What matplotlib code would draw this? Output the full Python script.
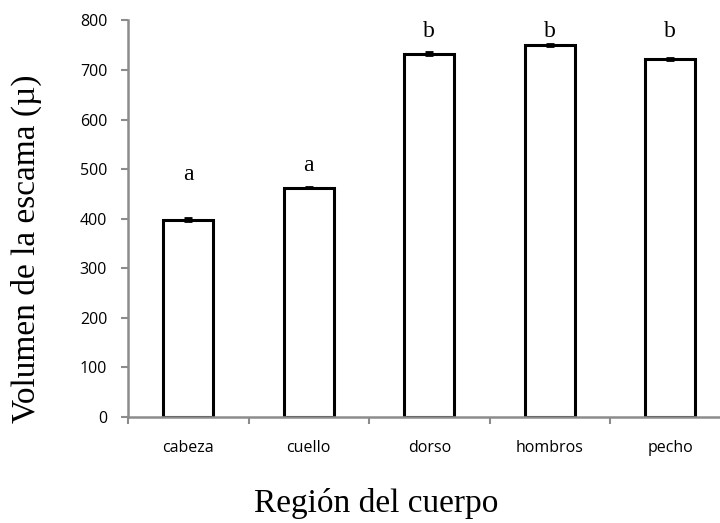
import matplotlib.pyplot as plt
import numpy as np

regiones = ["cabeza", "cuello", "dorso", "hombros", "pecho"]
volumen = [398, 462, 733, 750, 723]
error = [3, 1, 3, 2, 2]
letras = ["a", "a", "b", "b", "b"]
pos_letras = [488, 508, 778, 778, 778]

gris = "#8c8c8c"

fig = plt.figure(figsize=(7.2, 5.23), dpi=100)
ax = fig.add_axes([0.1778, 0.2033, 0.8368, 0.7576])

x = np.arange(len(regiones))
ax.bar(x, volumen, width=0.415, color="white", edgecolor="black", linewidth=2.2, zorder=2)
ax.errorbar(x, volumen, yerr=error, fmt="none", ecolor="black", elinewidth=2, capsize=3, capthick=2, zorder=3)

for xi, letra, yl in zip(x, letras, pos_letras):
    ax.text(xi, yl, letra, ha="center", va="center", fontsize=17, family="Liberation Serif")

ax.set_xlim(-0.5, len(regiones) - 0.5)
ax.set_ylim(0, 800)
ax.set_yticks(range(0, 801, 100))
ax.set_xticks(x)
ax.set_xticklabels(regiones)
ax.set_xticks(np.arange(-0.5, len(regiones), 1), minor=True)

for lab in ax.get_xticklabels() + ax.get_yticklabels():
    lab.set_family("Open Sans")
    lab.set_fontsize(11.5)

ax.tick_params(axis="x", which="major", length=0, pad=17)
ax.tick_params(axis="x", which="minor", length=5, width=1.5, color=gris, direction="out")
ax.tick_params(axis="y", length=5, width=1.5, color=gris, direction="out", pad=10)

for side in ["top", "right"]:
    ax.spines[side].set_visible(False)
for side in ["left", "bottom"]:
    ax.spines[side].set_color(gris)
    ax.spines[side].set_linewidth(1.8)

fig.text(0.036, 0.525, "Volumen de la escama (\u00b5)", rotation=90, ha="center", va="center",
         fontsize=24, family="Liberation Serif")
fig.text(0.522, 0.021, "Región del cuerpo", ha="center", va="baseline",
         fontsize=24, family="Liberation Serif")

fig.savefig("out.png", dpi=100)
